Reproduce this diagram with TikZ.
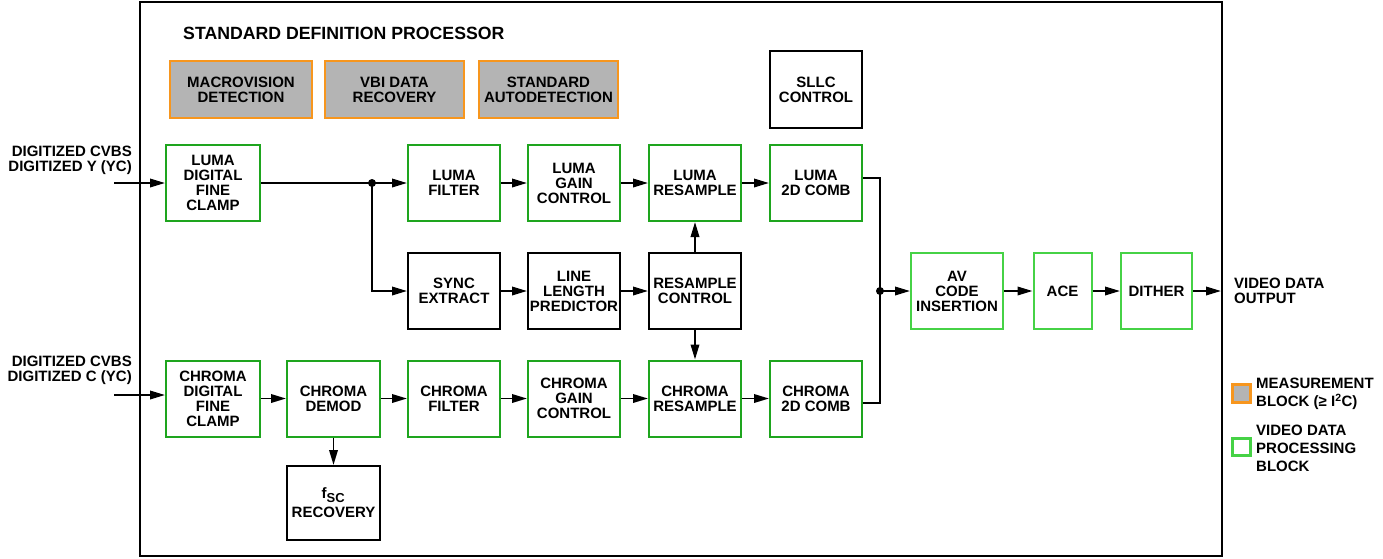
\documentclass[tikz,border=0pt]{standalone}
\usepackage{fontspec}
\setmainfont{Liberation Sans}
\usetikzlibrary{arrows.meta}
\definecolor{gdark}{RGB}{30,165,30}
\definecolor{glight}{RGB}{70,210,70}
\definecolor{orng}{RGB}{247,150,30}
\definecolor{gfill}{RGB}{180,180,180}
\begin{document}
\begin{tikzpicture}[x=1pt,y=-1pt,
  every node/.style={font=\bfseries\fontsize{15}{15}\selectfont, align=center, inner sep=0pt},
  blk/.style={draw, line width=2pt, minimum height=76pt},
  gblk/.style={blk, draw=gdark},
  lblk/.style={blk, draw=glight},
  kblk/.style={blk, draw=black},
  mblk/.style={draw=orng, fill=gfill, line width=2pt, minimum width=139pt, minimum height=57pt},
  arr/.style={line width=1.9pt, -{Triangle[length=15pt,width=8.5pt]}},
  ln/.style={line width=1.9pt},
  dot/.style={circle, fill=black, minimum size=8pt, inner sep=0pt}
]
\useasboundingbox (0,0) rectangle (1383,558);
\draw[line width=2.5pt] (140,2) rectangle (1222,556);
\node[anchor=west, font=\bfseries\fontsize{17.7}{17.7}\selectfont] (title) at (183,33) {STANDARD DEFINITION PROCESSOR};

% measurement blocks
\node[mblk, minimum width=142pt] (macro) at (241,89.5) {MACROVISION\\DETECTION};
\node[mblk] (vbi) at (394.5,89.5) {VBI DATA\\RECOVERY};
\node[mblk] (std) at (548.5,89.5) {STANDARD\\AUTODETECTION};
\node[kblk, minimum width=92pt, minimum height=77pt] (sllc) at (816,89.5) {SLLC\\CONTROL};

% row 1
\node[gblk, minimum width=94pt] (lclamp) at (213,183) {LUMA\\DIGITAL\\FINE\\CLAMP};
\node[gblk, minimum width=92pt] (lfilter) at (454,183) {LUMA\\FILTER};
\node[gblk, minimum width=92pt] (lgain) at (574,183) {LUMA\\GAIN\\CONTROL};
\node[gblk, minimum width=92pt] (lres) at (695,183) {LUMA\\RESAMPLE};
\node[gblk, minimum width=92pt] (lcomb) at (816,183) {LUMA\\2D COMB};

% row 2
\node[kblk, minimum width=92pt] (sync) at (454,291) {SYNC\\EXTRACT};
\node[kblk, minimum width=92pt] (llp) at (574,291) {LINE\\LENGTH\\PREDICTOR};
\node[kblk, minimum width=92pt] (rc) at (695,291) {RESAMPLE\\CONTROL};

% row 3
\node[gblk, minimum width=94pt] (cclamp) at (213,398.5) {CHROMA\\DIGITAL\\FINE\\CLAMP};
\node[gblk, minimum width=93pt] (cdemod) at (333.5,398.5) {CHROMA\\DEMOD};
\node[gblk, minimum width=92pt] (cfilter) at (454,398.5) {CHROMA\\FILTER};
\node[gblk, minimum width=92pt] (cgain) at (574,398.5) {CHROMA\\GAIN\\CONTROL};
\node[gblk, minimum width=92pt] (cres) at (695,398.5) {CHROMA\\RESAMPLE};
\node[gblk, minimum width=92pt] (ccomb) at (816,398.5) {CHROMA\\2D COMB};
\node[kblk, minimum width=93pt, minimum height=74pt] (fsc) at (333.5,503) {f\textsubscript{\fontsize{13}{13}\selectfont SC}\\[4pt]RECOVERY};

% output chain
\node[lblk, minimum width=92pt] (av) at (957,291) {AV\\CODE\\INSERTION};
\node[lblk, minimum width=58pt] (ace) at (1062.5,291) {ACE};
\node[lblk, minimum width=71pt] (dither) at (1156.5,291) {DITHER};

% labels
\node[anchor=east, align=right] (inY) at (132,160) {DIGITIZED CVBS\\DIGITIZED Y (YC)};
\node[anchor=east, align=right] (inC) at (132,370) {DIGITIZED CVBS\\DIGITIZED C (YC)};
\node[anchor=west, align=left] (outlbl) at (1234,291) {VIDEO DATA\\OUTPUT};

% coordinates
\coordinate (in1) at (114,183);
\coordinate (in2) at (114,395);
\coordinate (out) at (1221,291);
\coordinate (j1) at (372,183);
\coordinate (j2) at (880,291);
\coordinate (t1) at (880,178);
\coordinate (t2) at (880,403);

% connectors
\draw[arr] (in1) -- (lclamp.west);
\draw[arr] (in2) -- (cclamp.west |- in2);
\draw[ln] (lclamp.east) -- (j1);
\draw[arr] (j1) -- (lfilter.west);
\draw[arr] (j1) |- (sync.west);
\node[dot] (d1) at (j1) {};
\draw[arr] (lfilter) -- (lgain);
\draw[arr] (lgain) -- (lres);
\draw[arr] (lres) -- (lcomb);
\draw[arr] (sync) -- (llp);
\draw[arr] (llp) -- (rc);
\draw[arr] (rc) -- (lres);
\draw[arr] (rc) -- (cres);
\draw[arr] (cclamp) -- (cdemod);
\draw[arr] (cdemod) -- (cfilter);
\draw[arr] (cfilter) -- (cgain);
\draw[arr] (cgain) -- (cres);
\draw[arr] (cres) -- (ccomb);
\draw[arr] (cdemod) -- (fsc);
\draw[ln] (lcomb.east |- t1) -- (t1) -- (t2) -- (ccomb.east |- t2);
\node[dot] (d2) at (j2) {};
\draw[arr] (j2) -- (av);
\draw[arr] (av) -- (ace);
\draw[arr] (ace) -- (dither);
\draw[arr] (dither) -- (out);

% legend
\node[draw=orng, fill=gfill, line width=2.5pt, minimum width=18pt, minimum height=18pt] (legm) at (1241.5,393.5) {};
\node[anchor=west, align=left, font=\bfseries\fontsize{15}{18}\selectfont] (legmt) at (1256,394) {MEASUREMENT\\BLOCK (≥ I\textsuperscript{2}C)};
\node[draw=glight, line width=2.5pt, minimum width=18pt, minimum height=17pt] (legv) at (1241.5,447) {};
\node[anchor=west, align=left, font=\bfseries\fontsize{15}{18}\selectfont] (legvt) at (1256,448) {VIDEO DATA\\PROCESSING\\BLOCK};
\end{tikzpicture}
\end{document}
